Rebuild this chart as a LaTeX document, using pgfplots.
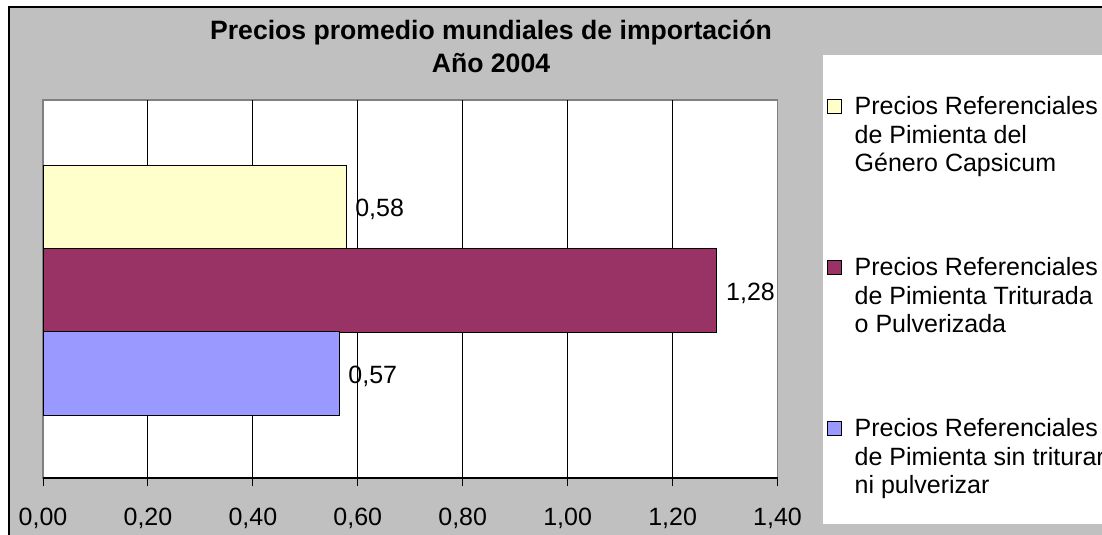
\documentclass[border=0pt]{standalone}
\usepackage{fontspec}
\setmainfont{Liberation Sans}
\usepackage{pgfplots}
\pgfplotsset{compat=1.18}
\definecolor{chartgray}{RGB}{192,192,192}
\definecolor{bordergray}{RGB}{128,128,128}
\definecolor{cyellow}{RGB}{255,255,204}
\definecolor{cpurple}{RGB}{153,51,102}
\definecolor{cblue}{RGB}{153,153,255}
\newcommand{\lbl}{\fontsize{25bp}{28.75bp}\selectfont}
\pgfplotsset{mysq/.style={legend image code/.code={%
  \path[draw=none,fill=none] (0bp,-5bp) rectangle (13bp,20bp);
  \draw[##1,line width=1bp,draw=black] (0bp,2bp) rectangle (13.5bp,15.5bp);}}}
\begin{document}
\begin{tikzpicture}[x=1bp,y=1bp]
\useasboundingbox (0,0) rectangle (1102,535);
\fill[white] (0,0) rectangle (1102,535);
\fill[chartgray] (9,0) rectangle (1102,528);
\draw[black, line width=2bp] (9,0) -- (9,528) -- (1102,528);
\fill[white] (823,11) rectangle (1102,480);
\node[font=\fontsize{26.6bp}{30bp}\selectfont\bfseries, anchor=base, inner sep=0pt] at (491,495.5) {Precios promedio mundiales de importación};
\node[font=\fontsize{26.6bp}{30bp}\selectfont\bfseries, anchor=base, inner sep=0pt] at (491,462.5) {Año 2004};
\begin{axis}[
  at={(43bp,57bp)}, anchor=south west,
  width=734.5bp, height=378bp, scale only axis,
  xmin=0, xmax=1.4, ymin=0, ymax=378,
  xtick={0,0.2,0.4,0.6,0.8,1.0,1.2,1.4},
  ytick=\empty,
  axis x line*=bottom, axis y line=none,
  axis line style={line width=1.5bp, black},
  tick align=outside, major tick length=8bp,
  tick style={black, line width=1bp},
  axis background/.style={fill=white, draw=bordergray, line width=1.5bp},
  extra x ticks={0.2,0.4,0.6,0.8,1.0,1.2},
  extra x tick labels={},
  extra x tick style={major tick length=0pt, xmajorgrids=true, grid style={black, line width=1bp}},
  ticklabel style={font=\lbl},
  xticklabel style={anchor=north, inner sep=0pt, yshift=-22bp},
  /pgf/number format/use comma,
  /pgf/number format/fixed,
  /pgf/number format/fixed zerofill,
  /pgf/number format/precision=2,
  /pgf/number format/assume math mode=true,
  legend cell align=left,
  legend style={draw=none, fill=none, at={(1.0674,1.01323)}, anchor=north west,
    inner sep=0pt, row sep=136bp, column sep=13bp, font=\lbl,
    nodes={inner sep=0pt}},
]
\addplot[xbar, bar width=83.5, bar shift=0, fill=cyellow, draw=black, line width=1bp, mysq,
  nodes near coords, nodes near coords style={font=\lbl, anchor=west, inner sep=0pt, xshift=8bp, yshift=-2.5bp, text=black}]
  coordinates {(0.579,271)};
\addlegendentry{\smash{\parbox[t]{270bp}{\raggedright Precios Referenciales\\de Pimienta del\\Género Capsicum}}}
\addplot[xbar, bar width=83.5, bar shift=0, fill=cpurple, draw=black, line width=1bp, mysq,
  nodes near coords, nodes near coords style={font=\lbl, anchor=west, inner sep=0pt, xshift=9bp, yshift=-2.5bp, text=black}]
  coordinates {(1.284,187.5)};
\addlegendentry{\smash{\parbox[t]{270bp}{\raggedright Precios Referenciales\\de Pimienta Triturada\\o Pulverizada}}}
\addplot[xbar, bar width=83.5, bar shift=0, fill=cblue, draw=black, line width=1bp, mysq,
  nodes near coords, nodes near coords style={font=\lbl, anchor=west, inner sep=0pt, xshift=8bp, yshift=-2.5bp, text=black}]
  coordinates {(0.566,104.5)};
\addlegendentry{\smash{\parbox[t]{270bp}{\raggedright Precios Referenciales\\de Pimienta sin triturar\\ni pulverizar}}}
\end{axis}
\end{tikzpicture}
\end{document}
